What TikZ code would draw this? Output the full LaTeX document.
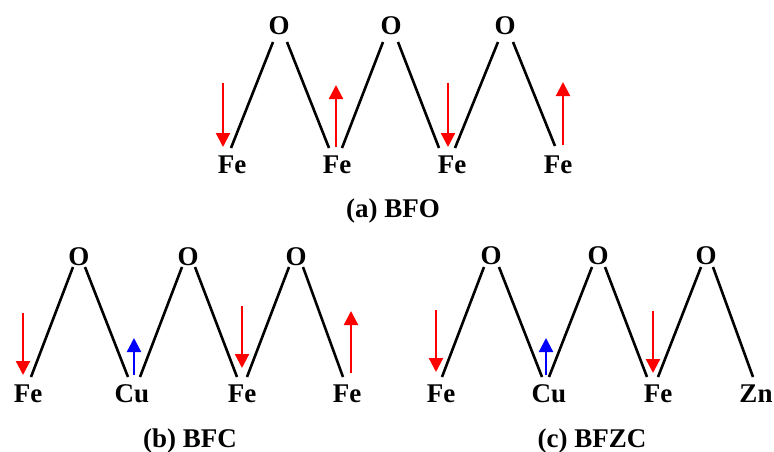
\documentclass[tikz,border=0pt]{standalone}
\usepackage{fontspec}
\setmainfont{Liberation Serif}
\usetikzlibrary{arrows.meta}
\begin{document}
\begin{tikzpicture}[x=1pt,y=-1pt,
  atom/.style={font=\bfseries\fontsize{27}{27}\selectfont, inner sep=0pt, anchor=base},
  caption/.style={font=\bfseries\fontsize{27}{27}\selectfont, inner sep=0pt, anchor=base},
  bond/.style={line width=2.6pt, black},
  spin/.style={line width=2.2pt, draw=#1, -{Triangle[width=14pt,length=14pt,fill=#1]}}]
\useasboundingbox (0,0) rectangle (774,452);

% ---------- (a) BFO ----------
\node[atom] (aO1) at (279,35) {O};
\node[atom] (aO2) at (391,35) {O};
\node[atom] (aO3) at (505,35) {O};
\node[atom] (aM1) at (232,173) {Fe};
\node[atom] (aM2) at (337,173) {Fe};
\node[atom] (aM3) at (452,173) {Fe};
\node[atom] (aM4) at (558,173) {Fe};
\node[caption] (acap) at (393,217) {(a) BFO};

\coordinate (aM1r) at (231,148); \coordinate (aO1l) at (273,42);
\coordinate (aO1r) at (287,42);  \coordinate (aM2l) at (329,148);
\coordinate (aM2r) at (342,148); \coordinate (aO2l) at (383,42);
\coordinate (aO2r) at (398,42);  \coordinate (aM3l) at (439,148);
\coordinate (aM3r) at (455,148); \coordinate (aO3l) at (498,42);
\coordinate (aO3r) at (513,42);  \coordinate (aM4l) at (555,146);
\draw[bond] (aM1r) -- (aO1l);
\draw[bond] (aO1r) -- (aM2l);
\draw[bond] (aM2r) -- (aO2l);
\draw[bond] (aO2r) -- (aM3l);
\draw[bond] (aM3r) -- (aO3l);
\draw[bond] (aO3r) -- (aM4l);

\draw[spin=red] (223,83) -- (223,147);
\draw[spin=red] (336,147) -- (336,85);
\draw[spin=red] (448,83) -- (448,147);
\draw[spin=red] (563,145) -- (563,82);

% ---------- (b) BFC ----------
\node[atom] (bO1) at (79,265) {O};
\node[atom] (bO2) at (188,265) {O};
\node[atom] (bO3) at (296,265) {O};
\node[atom] (bM1) at (28,402) {Fe};
\node[atom] (bM2) at (132,402) {Cu};
\node[atom] (bM3) at (242,402) {Fe};
\node[atom] (bM4) at (347,402) {Fe};
\node[caption] (bcap) at (190,447) {(b) BFC};

\coordinate (bM1r) at (31,377);  \coordinate (bO1l) at (73,267);
\coordinate (bO1r) at (85,267);  \coordinate (bM2l) at (128,377);
\coordinate (bM2r) at (140,377); \coordinate (bO2l) at (182,267);
\coordinate (bO2r) at (195,267); \coordinate (bM3l) at (237,377);
\coordinate (bM3r) at (247,377); \coordinate (bO3l) at (289,267);
\coordinate (bO3r) at (303,267); \coordinate (bM4l) at (343,377);
\draw[bond] (bM1r) -- (bO1l);
\draw[bond] (bO1r) -- (bM2l);
\draw[bond] (bM2r) -- (bO2l);
\draw[bond] (bO2r) -- (bM3l);
\draw[bond] (bM3r) -- (bO3l);
\draw[bond] (bO3r) -- (bM4l);

\draw[spin=red] (23,313) -- (23,375);
\draw[spin=blue] (134,375) -- (134,338);
\draw[spin=red] (242,306) -- (242,368);
\draw[spin=red] (351,373) -- (351,311);

% ---------- (c) BFZC ----------
\node[atom] (cO1) at (491,264) {O};
\node[atom] (cO2) at (598,264) {O};
\node[atom] (cO3) at (706,264) {O};
\node[atom] (cM1) at (441,402) {Fe};
\node[atom] (cM2) at (549,402) {Cu};
\node[atom] (cM3) at (658,402) {Fe};
\node[atom] (cM4) at (756,402) {Zn};
\node[caption] (ccap) at (592,447) {(c) BFZC};

\coordinate (cM1r) at (442,377); \coordinate (cO1l) at (484,267);
\coordinate (cO1r) at (499,267); \coordinate (cM2l) at (542,377);
\coordinate (cM2r) at (549,377); \coordinate (cO2l) at (592,267);
\coordinate (cO2r) at (605,267); \coordinate (cM3l) at (647,377);
\coordinate (cM3r) at (658,377); \coordinate (cO3l) at (701,267);
\coordinate (cO3r) at (713,267); \coordinate (cM4l) at (753,377);
\draw[bond] (cM1r) -- (cO1l);
\draw[bond] (cO1r) -- (cM2l);
\draw[bond] (cM2r) -- (cO2l);
\draw[bond] (cO2r) -- (cM3l);
\draw[bond] (cM3r) -- (cO3l);
\draw[bond] (cO3r) -- (cM4l);

\draw[spin=red] (436,310) -- (436,372);
\draw[spin=blue] (546,375) -- (546,338);
\draw[spin=red] (653,311) -- (653,373);
\end{tikzpicture}
\end{document}
